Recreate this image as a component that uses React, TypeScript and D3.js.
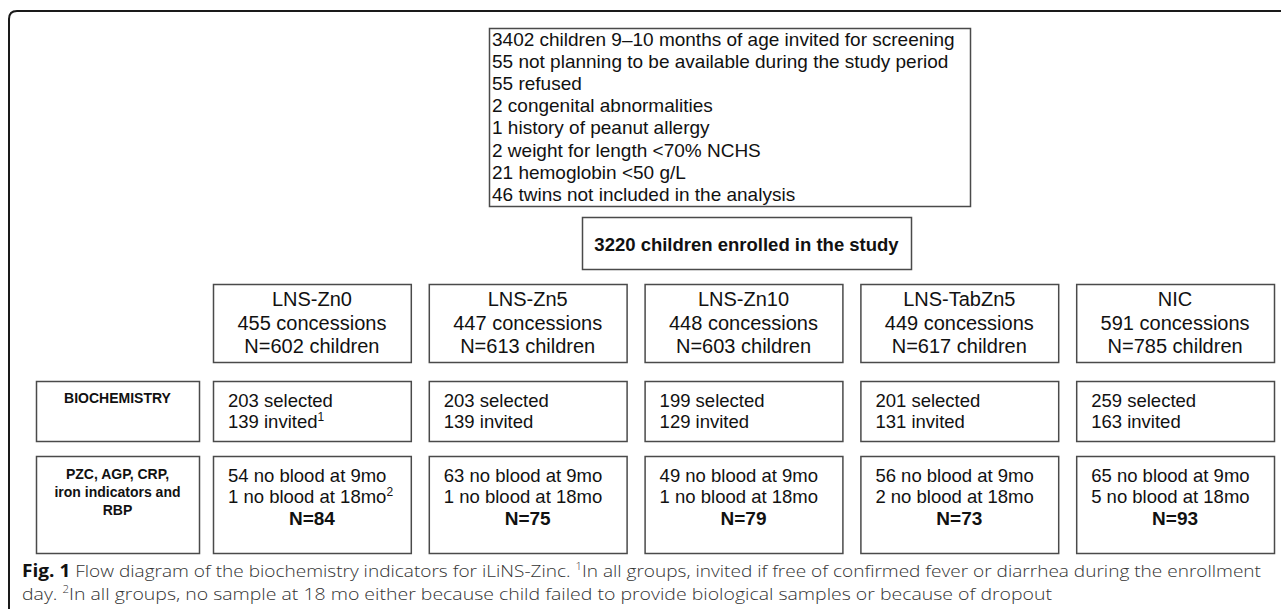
import React from "react";
import * as d3 from "d3";

const screeningLines = [
  "3402 children 9–10 months of age invited for screening",
  "55 not planning to be available during the study period",
  "55 refused",
  "2 congenital abnormalities",
  "1 history of peanut allergy",
  "2 weight for length <70% NCHS",
  "21 hemoglobin <50 g/L",
  "46 twins not included in the analysis",
];
const enrolledText = "3220 children enrolled in the study";
const groups = ["LNS-Zn0", "LNS-Zn5", "LNS-Zn10", "LNS-TabZn5", "NIC"];
const concessions = [455, 447, 448, 449, 591];
const children = [602, 613, 603, 617, 785];
const selected = [203, 203, 199, 201, 259];
const invited = [139, 139, 129, 131, 163];
const noBlood9 = [54, 63, 49, 56, 65];
const noBlood18 = [1, 1, 1, 2, 5];
const finalN = [84, 75, 79, 73, 93];
const rowLabels = [["BIOCHEMISTRY"], ["PZC, AGP, CRP,", "iron indicators and", "RBP"]];
const captionBold = "Fig. 1";
const captionLine1 = " Flow diagram of the biochemistry indicators for iLiNS-Zinc. ";
const captionNote1 = "In all groups, invited if free of confirmed fever or diarrhea during the enrollment";
const captionLine2Start = "day. ";
const captionNote2 = "In all groups, no sample at 18 mo either because child failed to provide biological samples or because of dropout";

const W = 1281;
const H = 609;
const FONT = "'Liberation Sans', Arial, sans-serif";
const STROKE = "#4a4a4a";
const TXT = "#111";

export default function App() {
  const x = d3.scaleBand<string>().domain(groups).range([213, 1274]).paddingInner(0.0834);
  const bw = x.bandwidth();
  const row1 = { y: 284, h: 78 };
  const row2 = { y: 381, h: 60 };
  const row3 = { y: 456, h: 97 };
  const label = { x: 36, w: 163 };
  const lineY = d3.scaleLinear().domain([0, 7]).range([46, 200.7]);

  return (
    <svg width={W} height={H} style={{ position: "absolute", left: 0, top: 0, background: "#fff" }}>
      <rect x={0} y={0} width={W} height={H} fill="#fff" />
      {/* outer frame */}
      <path d={`M9,${H + 5} L9,19 Q9,11 17,11 L${W + 5},11`} fill="none" stroke="#1a1a1a" strokeWidth={2} />
      {/* screening box */}
      <rect x={489.5} y={28.5} width={481} height={178} fill="none" stroke={STROKE} strokeWidth={1.5} />
      {screeningLines.map((t, i) => (
        <text key={i} x={492} y={lineY(i)} fontFamily={FONT} fontSize={19} fill={TXT}>
          {t}
        </text>
      ))}
      {/* enrolled box */}
      <rect x={582.5} y={217.5} width={329} height={52} fill="none" stroke={STROKE} strokeWidth={1.5} />
      <text x={746.5} y={251} textAnchor="middle" fontFamily={FONT} fontSize={18.5} fontWeight="bold" fill={TXT}>
        {enrolledText}
      </text>
      {/* label boxes */}
      <rect x={label.x + 0.5} y={row2.y + 0.5} width={label.w} height={row2.h} fill="none" stroke={STROKE} strokeWidth={1.5} />
      {rowLabels[0].map((t, i) => (
        <text key={i} x={label.x + label.w / 2} y={row2.y + 22 + i * 18} textAnchor="middle" fontFamily={FONT} fontSize={14} fontWeight="bold" fill={TXT}>
          {t}
        </text>
      ))}
      <rect x={label.x + 0.5} y={row3.y + 0.5} width={label.w} height={row3.h} fill="none" stroke={STROKE} strokeWidth={1.5} />
      {rowLabels[1].map((t, i) => (
        <text key={i} x={label.x + label.w / 2} y={row3.y + 23 + i * 18} textAnchor="middle" fontFamily={FONT} fontSize={14} fontWeight="bold" fill={TXT}>
          {t}
        </text>
      ))}
      {groups.map((g, i) => {
        const x0 = x(g) as number;
        const cx = x0 + bw / 2;
        return (
          <g key={g}>
            <rect x={x0 + 0.5} y={row1.y + 0.5} width={bw} height={row1.h} fill="none" stroke={STROKE} strokeWidth={1.5} />
            <text x={cx} y={row1.y + 22} textAnchor="middle" fontFamily={FONT} fontSize={20} fill={TXT}>{g}</text>
            <text x={cx} y={row1.y + 46} textAnchor="middle" fontFamily={FONT} fontSize={20} fill={TXT}>{`${concessions[i]} concessions`}</text>
            <text x={cx} y={row1.y + 69} textAnchor="middle" fontFamily={FONT} fontSize={20} fill={TXT}>{`N=${children[i]} children`}</text>

            <rect x={x0 + 0.5} y={row2.y + 0.5} width={bw} height={row2.h} fill="none" stroke={STROKE} strokeWidth={1.5} />
            <text x={x0 + 15} y={row2.y + 25.5} fontFamily={FONT} fontSize={18.5} fill={TXT}>{`${selected[i]} selected`}</text>
            <text x={x0 + 15} y={row2.y + 46.5} fontFamily={FONT} fontSize={18.5} fill={TXT}>
              {`${invited[i]} invited`}
              {i === 0 ? <tspan fontSize={12} dy={-7}>1</tspan> : null}
            </text>

            <rect x={x0 + 0.5} y={row3.y + 0.5} width={bw} height={row3.h} fill="none" stroke={STROKE} strokeWidth={1.5} />
            <text x={x0 + 15} y={row3.y + 25.5} fontFamily={FONT} fontSize={18.5} fill={TXT}>{`${noBlood9[i]} no blood at 9mo`}</text>
            <text x={x0 + 15} y={row3.y + 46.5} fontFamily={FONT} fontSize={18.5} fill={TXT}>
              {`${noBlood18[i]} no blood at 18mo`}
              {i === 0 ? <tspan fontSize={12} dy={-7}>2</tspan> : null}
            </text>
            <text x={cx} y={row3.y + 69} textAnchor="middle" fontFamily={FONT} fontSize={19} fontWeight="bold" fill={TXT}>{`N=${finalN[i]}`}</text>
          </g>
        );
      })}
      {/* caption */}
      <text x={22} y={577} fontFamily="'Open Sans', sans-serif" fontSize={17} fontWeight={300} fill="#333" textLength={1239} lengthAdjust="spacingAndGlyphs">
        <tspan fontWeight="bold" fill="#111">{captionBold}</tspan>
        <tspan>{captionLine1}</tspan>
        <tspan fontSize={10} dy={-7}>1</tspan>
        <tspan dy={7}>{captionNote1}</tspan>
      </text>
      <text x={22} y={600} fontFamily="'Open Sans', sans-serif" fontSize={17} fontWeight={300} fill="#333" textLength={1030} lengthAdjust="spacingAndGlyphs">
        <tspan>{captionLine2Start}</tspan>
        <tspan fontSize={10} dy={-7}>2</tspan>
        <tspan dy={7}>{captionNote2}</tspan>
      </text>
    </svg>
  );
}
